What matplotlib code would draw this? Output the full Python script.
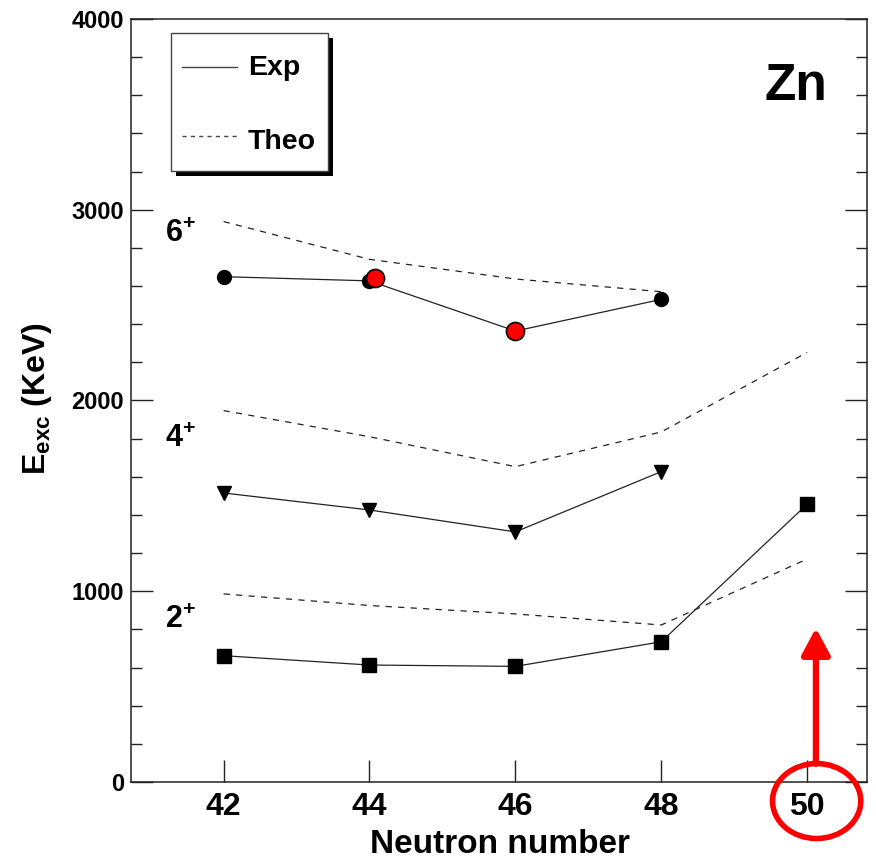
import matplotlib
matplotlib.use("Agg")
import matplotlib.pyplot as plt
from matplotlib.lines import Line2D
from matplotlib.patches import Ellipse, Rectangle

plt.rcParams['font.family'] = ['Liberation Sans', 'DejaVu Sans']
plt.rcParams['font.weight'] = 'bold'
plt.rcParams['mathtext.fontset'] = 'custom'
plt.rcParams['mathtext.rm'] = 'Liberation Sans:bold'
plt.rcParams['mathtext.bf'] = 'Liberation Sans:bold'
plt.rcParams['mathtext.it'] = 'Liberation Sans:bold'

# ---- data ----
neutrons = [42, 44, 46, 48, 50]
n_exp_46 = [42, 44, 46, 48]
n_theo6 = [42, 44, 46, 48]

exp2 = [662, 613, 606, 735, 1456]
theo2 = [986, 925, 881, 823, 1169]
exp4 = [1515, 1426, 1311, 1627]
theo4 = [1947, 1810, 1653, 1835, 2252]
exp6 = [2649, 2627, 2364, 2530]
theo6 = [2938, 2740, 2637, 2570]

new_n = [44.07, 46]
new_e6 = [2640, 2364]

x_ticks = [42, 44, 46, 48, 50]
spin_labels = ['6', '4', '2']
spin_label_y = [2831, 1756, 807]
legend_labels = ['Exp', 'Theo']

line_col = '#222222'

fig = plt.figure(figsize=(8.76, 8.63), dpi=100)
ax = fig.add_axes([0.1495, 0.0939, 0.8402, 0.8841])
ax.set_xlim(40.73, 50.82)
ax.set_ylim(0, 4000)

dash = (0, (5, 5))
lw = 0.9
# theory
ax.plot(neutrons, theo2, color=line_col, lw=lw, linestyle=dash)
ax.plot(neutrons, theo4, color=line_col, lw=lw, linestyle=dash)
ax.plot(n_theo6, theo6, color=line_col, lw=lw, linestyle=dash)
# experiment
ax.plot(neutrons, exp2, color=line_col, lw=lw, marker='s', ms=10, mfc='black', mec='black')
ax.plot(n_exp_46, exp4, color=line_col, lw=lw, marker='v', ms=10.5, mfc='black', mec='black')
ax.plot(n_exp_46, exp6, color=line_col, lw=lw, marker='o', ms=10, mfc='black', mec='black')
ax.plot(new_n, new_e6, linestyle='none', marker='o', ms=13, mfc='red', mec='black', mew=1.2, zorder=5)

# spin labels
for lab, yv in zip(spin_labels, spin_label_y):
    ax.text(41.19, yv, r'$\mathbf{' + lab + '^{+}}$', fontsize=22, ha='left', va='baseline')

ax.text(0.861, 0.894, 'Zn', transform=ax.transAxes, fontsize=37, fontweight='bold',
        ha='left', va='baseline')

# axes styling
ax.set_xticks(x_ticks)
ax.set_xticklabels([str(v) for v in x_ticks])
ax.set_yticks([0, 1000, 2000, 3000, 4000])
ax.set_yticks(range(0, 4001, 200), minor=True)
ax.tick_params(axis='x', which='major', direction='in', length=16, width=1, labelsize=23, pad=7,
               top=False, color=line_col)
ax.tick_params(axis='x', which='minor', bottom=False, top=False)
ax.tick_params(axis='y', which='major', direction='in', length=16, width=1, labelsize=17, pad=5,
               right=True, color=line_col)
ax.tick_params(axis='y', which='minor', direction='in', length=8, width=1, right=True, color=line_col)
for lbl in ax.get_xticklabels() + ax.get_yticklabels():
    lbl.set_fontweight('bold')
for sp in ax.spines.values():
    sp.set_linewidth(1.1)
    sp.set_color(line_col)

ax.set_xlabel('Neutron number', fontsize=24, fontweight='bold')
ax.xaxis.set_label_coords(0.501, -0.062)
ax.set_ylabel(r'$\mathbf{E_{exc}}$ (KeV)', fontsize=23, fontweight='bold')
ax.yaxis.set_label_coords(-0.104, 0.503)

# legend box (ROOT style, with solid shadow)
T = ax.transAxes
ax.add_patch(Rectangle((0.0611, 0.7942), 0.2134, 0.1809, transform=T, facecolor='black',
                       edgecolor='black', lw=0, zorder=20, clip_on=False))
ax.add_patch(Rectangle((0.0543, 0.8008), 0.2134, 0.1809, transform=T, facecolor='white',
                       edgecolor='#444444', lw=1.0, zorder=21, clip_on=False))
ax.add_line(Line2D([0.0693, 0.1440], [0.9371, 0.9371], transform=T, color='#444444',
                   lw=1.0, zorder=22))
ax.add_line(Line2D([0.0693, 0.1440], [0.8467, 0.8467], transform=T, color='#444444',
                   lw=1.0, linestyle=(0, (3, 3)), zorder=22))
ax.text(0.159, 0.9266, legend_labels[0], transform=T, fontsize=20.5, fontweight='bold',
        ha='left', va='baseline', zorder=23)
ax.text(0.159, 0.8294, legend_labels[1], transform=T, fontsize=20.5, fontweight='bold',
        ha='left', va='baseline', zorder=23)

# red annotation: arrow and ellipse
ax.annotate('', xy=(50.12, 807), xytext=(50.12, 95),
            arrowprops=dict(arrowstyle='-|>,head_length=0.8,head_width=0.43',
                            mutation_scale=20, color='red', lw=4.5, shrinkA=0, shrinkB=0),
            annotation_clip=False, zorder=10)
ell = Ellipse((50.13, -100), width=1.21, height=393, facecolor='none', edgecolor='red',
              lw=4, clip_on=False, zorder=10)
ax.add_patch(ell)

fig.savefig('out.png', dpi=100)
